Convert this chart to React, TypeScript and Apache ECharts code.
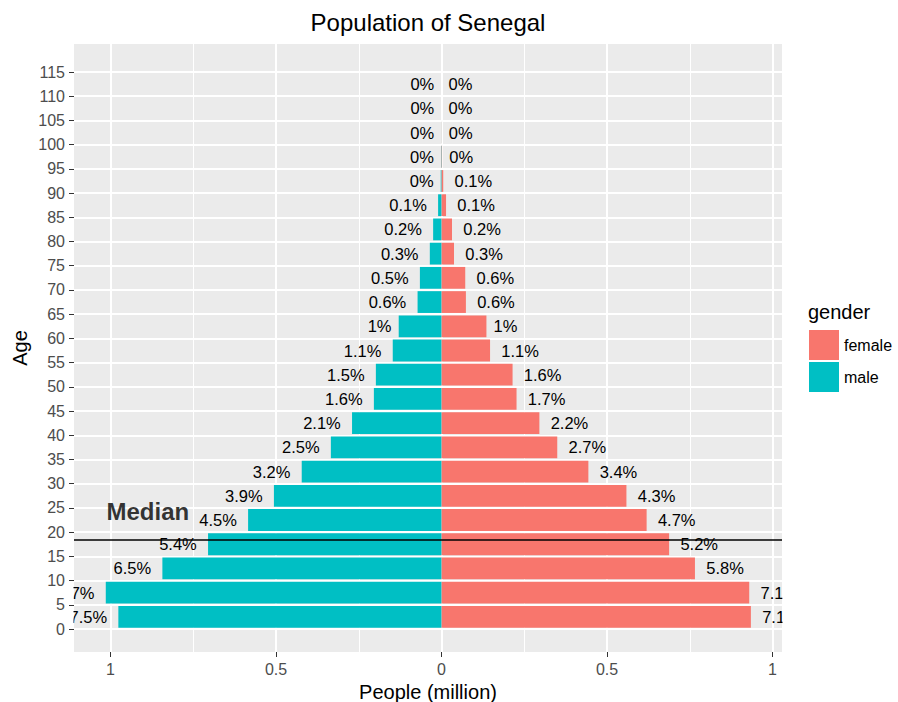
import React, { useEffect, useRef } from "react";
import * as echarts from "echarts";

// ---- data (bottom age group first) ----
const ageGroups = [
  "0-4", "5-9", "10-14", "15-19", "20-24", "25-29", "30-34", "35-39", "40-44", "45-49",
  "50-54", "55-59", "60-64", "65-69", "70-74", "75-79", "80-84", "85-89", "90-94", "95-99",
  "100-104", "105-109", "110-114",
];
const maleMillions = [
  0.976, 1.014, 0.843, 0.705, 0.584, 0.506, 0.422, 0.334, 0.27, 0.204,
  0.198, 0.147, 0.129, 0.072, 0.065, 0.035, 0.025, 0.01, 0.002, 0.001,
  0.0003, 0, 0,
];
const femaleMillions = [
  0.935, 0.93, 0.766, 0.688, 0.62, 0.559, 0.444, 0.35, 0.296, 0.227,
  0.215, 0.147, 0.136, 0.074, 0.072, 0.038, 0.032, 0.014, 0.0055, 0.002,
  0.0005, 0, 0,
];
const maleLabels = [
  "7.5%", "7.7%", "6.5%", "5.4%", "4.5%", "3.9%", "3.2%", "2.5%", "2.1%", "1.6%",
  "1.5%", "1.1%", "1%", "0.6%", "0.5%", "0.3%", "0.2%", "0.1%", "0%", "0%",
  "0%", "0%", "0%",
];
const femaleLabels = [
  "7.1%", "7.1%", "5.8%", "5.2%", "4.7%", "4.3%", "3.4%", "2.7%", "2.2%", "1.7%",
  "1.6%", "1.1%", "1%", "0.6%", "0.6%", "0.3%", "0.2%", "0.1%", "0.1%", "0%",
  "0%", "0%", "0%",
];
const medianAge = 18.4;
const medianLabelPos = [-0.887, 24.2];
const medianText = "Median";

const FONT = "'Liberation Sans', Arial, Helvetica, sans-serif";
const LABEL_SIZE = 16.5;

function emWidth(s: string): number {
  let w = 0;
  for (const c of s) w += c === "." ? 0.278 : c === "%" ? 0.889 : 0.556;
  return w;
}
function labelDistance(s: string): number {
  return 0.3 * emWidth(s) * LABEL_SIZE;
}

export default function App() {
  const ref = useRef<HTMLDivElement>(null);
  useEffect(() => {
    if (!ref.current) return;
    const chart = echarts.init(ref.current, undefined, { renderer: "svg" });
    const hidden = {
      axisLine: { show: false },
      axisTick: { show: false },
      axisLabel: { show: false },
      splitLine: { show: false },
    };
    const option: any = {
      animation: false,
      textStyle: { fontFamily: FONT },
      title: {
        text: "Population of Senegal",
        left: 428,
        top: 10,
        textAlign: "center",
        padding: 0,
        textStyle: { fontSize: 24, fontWeight: "normal", color: "#000", fontFamily: FONT },
      },
      legend: {
        data: ["female", "male"],
        orient: "vertical",
        left: 809,
        top: 330,
        itemWidth: 30,
        itemHeight: 30,
        itemGap: 2,
        icon: "rect",
        selectedMode: false,
        padding: 0,
        textStyle: { fontSize: 16, color: "#000", fontFamily: FONT },
      },
      grid: [
        {
          left: 74, top: 44, width: 708, height: 608, show: true, backgroundColor: "#EBEBEB",
          borderWidth: 0, containLabel: false, outerBoundsMode: "none",
        },
        { left: 110.5, top: 44, width: 662, height: 608, containLabel: false, outerBoundsMode: "none" },
        { left: 74, top: 72, width: 708, height: 557, containLabel: false, outerBoundsMode: "none" },
      ],
      xAxis: [
        {
          gridIndex: 0, type: "value", position: "bottom", min: -1.11, max: 1.029, ...hidden,
          name: "People (million)", nameLocation: "middle", nameGap: 30,
          nameTextStyle: { fontSize: 20, color: "#000", fontFamily: FONT },
        },
        {
          gridIndex: 1, type: "value", position: "bottom", min: -1, max: 1, interval: 0.25,
          axisLine: { show: false }, axisTick: { show: false }, axisLabel: { show: false },
          splitLine: { show: true, lineStyle: { color: "#FFFFFF", width: 1 } },
        },
        {
          gridIndex: 1, type: "value", position: "bottom", min: -1, max: 1, interval: 0.5,
          axisLine: { show: false },
          axisTick: { show: true, length: 5, lineStyle: { color: "#333333", width: 1 } },
          axisLabel: {
            show: true, margin: 9, fontSize: 16, color: "#4D4D4D", fontFamily: FONT,
            formatter: (v: number) => String(Math.abs(v)),
          },
          splitLine: { show: true, lineStyle: { color: "#FFFFFF", width: 2 } },
        },
        { gridIndex: 2, type: "value", position: "bottom", min: -1.11, max: 1.029, ...hidden },
      ],
      yAxis: [
        {
          gridIndex: 0, type: "value", position: "left", min: -4.75, max: 120.78, ...hidden, z: 10,
          name: "Age", nameLocation: "middle", nameRotate: 90, nameGap: 44,
          nameTextStyle: { fontSize: 20, color: "#000", fontFamily: FONT },
        },
        { gridIndex: 1, type: "value", position: "left", min: 0, max: 1, ...hidden },
        {
          gridIndex: 2, type: "category", position: "left", data: ageGroups,
          axisLine: { show: false }, axisTick: { show: false }, axisLabel: { show: false },
          splitLine: { show: true, lineStyle: { color: "#FFFFFF", width: 2 } },
        },
        {
          gridIndex: 2, type: "value", min: 0, max: 115, interval: 5, position: "left", z: 10,
          axisLine: { show: false },
          axisTick: { show: true, length: 5, lineStyle: { color: "#333333", width: 1 } },
          axisLabel: { show: true, margin: 9, fontSize: 16, color: "#4D4D4D", fontFamily: FONT },
          splitLine: { show: false },
        },
      ],
      graphic: [
        {
          type: "text", left: 808, top: 302, z: 10,
          style: { text: "gender", fontSize: 20, fill: "#000", fontFamily: FONT },
        },
        { type: "rect", z: 5, shape: { x: 0, y: 570, width: 73.5, height: 75 }, style: { fill: "#FFFFFF" } },
        { type: "rect", z: 5, shape: { x: 782.5, y: 570, width: 25, height: 75 }, style: { fill: "#FFFFFF" } },
      ],
      series: [
        {
          name: "female", type: "bar", xAxisIndex: 3, yAxisIndex: 2, stack: "pop",
          barCategoryGap: "10%",
          itemStyle: { color: "#F8766D" },
          data: femaleMillions.map((v, i) => ({
            value: v,
            label: { distance: labelDistance(femaleLabels[i]) },
          })),
          label: {
            show: true, position: "right", fontSize: LABEL_SIZE, color: "#000", fontFamily: FONT,
            formatter: (p: any) => femaleLabels[p.dataIndex],
          },
        },
        {
          name: "male", type: "bar", xAxisIndex: 3, yAxisIndex: 2, stack: "pop",
          barCategoryGap: "10%",
          itemStyle: { color: "#00BFC4" },
          data: maleMillions.map((v, i) => ({
            value: -v,
            label: { distance: labelDistance(maleLabels[i]) },
          })),
          label: {
            show: true, position: "left", fontSize: LABEL_SIZE, color: "#000", fontFamily: FONT,
            formatter: (p: any) => maleLabels[p.dataIndex],
          },
        },
        {
          name: "median", type: "scatter", xAxisIndex: 0, yAxisIndex: 0, z: 6,
          symbolSize: 1,
          itemStyle: { color: "rgba(0,0,0,0)" },
          data: [medianLabelPos],
          label: {
            show: true, position: "inside", formatter: medianText,
            fontSize: 24, fontWeight: "bold", color: "#000", fontFamily: FONT,
          },
          markLine: {
            silent: true, symbol: ["none", "none"],
            label: { show: false },
            lineStyle: { color: "#000", width: 1.5, type: "solid" },
            data: [{ yAxis: medianAge }],
          },
        },
      ],
    };
    chart.setOption(option);
    return () => chart.dispose();
  }, []);
  return (
    <div
      ref={ref}
      style={{ position: "fixed", left: 0, top: 0, width: 898, height: 702, background: "#fff" }}
    />
  );
}
